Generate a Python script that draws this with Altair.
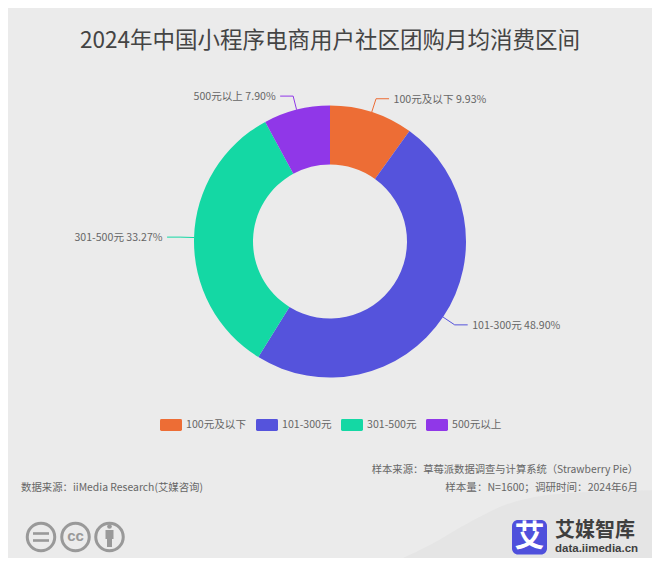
import math
import altair as alt
import pandas as pd

CATS = ["100元及以下", "101-300元", "301-500元", "500元以上"]
VALS = [9.93, 48.90, 33.27, 7.90]
COLS = ["#ed6d35", "#5553dc", "#14d8a4", "#9037e8"]
TITLE = "2024年中国小程序电商用户社区团购月均消费区间"
SRC_L = "数据来源：iiMedia Research(艾媒咨询)"
SRC_R1 = "样本来源：草莓派数据调查与计算系统（Strawberry Pie）"
SRC_R2 = "样本量：N=1600；调研时间：2024年6月"
WAVE_X = [385, 430, 470, 505, 535, 570, 620, 660]
WAVE_Y = [566, 545, 522, 505, 497, 493, 491, 490]

BG = "#ebebeb"
FONT = "Noto Sans CJK SC"
W, H = 644, 550
CX, CY = 322, 233.5
R, R0 = 136, 77
EXT, L2 = 14, 13


def px(v):
    return v - 8


def txt(s, x, y, size=10.6, color="#666666", align="left", weight="normal", font=FONT, dy=1.5):
    return alt.Chart(pd.DataFrame({"t": [s]})).mark_text(
        align=align, baseline="middle", fontSize=size, color=color, fontWeight=weight, font=font
    ).encode(x=alt.value(x), y=alt.value(y + dy), text="t:N")


def seg(x1, y1, x2, y2, color, w=1.0):
    return alt.Chart(pd.DataFrame({"a": [0]})).mark_rule(color=color, strokeWidth=w).encode(
        x=alt.value(x1), x2=alt.value(x2), y=alt.value(y1), y2=alt.value(y2)
    )


df = pd.DataFrame({"cat": CATS, "val": VALS, "ord": range(len(CATS))})

wave = alt.Chart(pd.DataFrame({"x": WAVE_X, "y": WAVE_Y})).mark_area(
    color="#e5e5e5", interpolate="monotone", clip=True
).encode(
    x=alt.X("x:Q", scale=alt.Scale(domain=[8, 8 + W], range=[0, W]), axis=None),
    y=alt.Y("y:Q", scale=alt.Scale(domain=[8, 8 + H], range=[0, H]), axis=None),
    y2=alt.datum(8 + H),
)

donut = alt.Chart(df).mark_arc(radius=R, innerRadius=R0).encode(
    x=alt.value(CX),
    y=alt.value(CY),
    theta=alt.Theta("val:Q", stack=True, scale=alt.Scale(domain=[0, 100], range=[0, 2 * math.pi])),
    order=alt.Order("ord:Q"),
    color=alt.Color(
        "cat:N",
        scale=alt.Scale(domain=CATS, range=COLS),
        sort=CATS,
        legend=alt.Legend(
            title=None,
            orient="none",
            legendX=px(160),
            legendY=px(414),
            direction="horizontal",
            columns=4,
            gridAlign="none",
            symbolType="M-1,-0.42 Q-1,-0.55 -0.87,-0.55 L0.87,-0.55 Q1,-0.55 1,-0.42 L1,0.42 Q1,0.55 0.87,0.55 L-0.87,0.55 Q-1,0.55 -1,0.42 Z",
            symbolSize=484,
            symbolStrokeWidth=0,
            symbolOpacity=1,
            labelFont=FONT,
            labelFontSize=10.6,
            labelColor="#666666",
            labelOffset=4,
            columnPadding=9,
        ),
    ),
)

layers = [wave, donut]

cum = 0.0
for cat, val, col in zip(CATS, VALS, COLS):
    ang = (cum + val / 2) / 100 * 2 * math.pi
    cum += val
    sx, cx = math.sin(ang), math.cos(ang)
    x0, y0 = CX + R * sx, CY - R * cx
    x1, y1 = CX + (R + EXT) * sx, CY - (R + EXT) * cx
    sign = 1 if sx > 0 else -1
    x2 = x1 + sign * L2
    layers.append(seg(x0, y0, x1, y1, col))
    layers.append(seg(x1, y1, x2, y1, col))
    layers.append(txt(f"{cat} {val:.2f}%", x2 + sign * 4.5, y1, align="left" if sign > 0 else "right", dy=1))

layers += [
    txt(TITLE, px(330), px(39), size=22.5, color="#444444", align="center"),
    txt(SRC_L, px(21), px(486), size=10.4),
    txt(SRC_R1, px(638), px(468), size=10.3, align="right"),
    txt(SRC_R2, px(638), px(486), size=10.55, align="right"),
]

# licence icons
for c in (41, 75.5, 109.5):
    layers.append(
        alt.Chart(pd.DataFrame({"a": [0]})).mark_point(
            shape="circle", size=756, filled=False, color="#999999", strokeWidth=3, opacity=1
        ).encode(x=alt.value(px(c)), y=alt.value(px(537)))
    )
layers += [
    seg(px(33), px(533.5), px(49), px(533.5), "#999999", 2.6),
    seg(px(33), px(540.5), px(49), px(540.5), "#999999", 2.6),
    txt("cc", px(75.5), px(536), size=15, color="#999999", align="center", weight="bold", font="Liberation Sans", dy=0),
    alt.Chart(pd.DataFrame({"a": [0]})).mark_point(
        shape="circle", size=22, filled=True, color="#999999", opacity=1
    ).encode(x=alt.value(px(109.5)), y=alt.value(px(526.5))),
    seg(px(109.5), px(530), px(109.5), px(539), "#999999", 8),
    seg(px(109.5), px(539), px(109.5), px(547), "#999999", 5),
]

# logo
layers += [
    alt.Chart(pd.DataFrame({"a": [0]})).mark_rect(color="#4f50dc", cornerRadius=6).encode(
        x=alt.value(px(512)), x2=alt.value(px(547)), y=alt.value(px(520)), y2=alt.value(px(554.5))
    ),
    txt("艾", px(529.5), px(537), size=30, color="#ffffff", align="center", weight="bold", dy=0),
    txt("艾媒智库", px(555), px(531), size=20, color="#3f3f3f", weight="bold", dy=0),
    txt("data.iimedia.cn", px(555), px(549), size=11.5, color="#3f3f3f", weight="bold", font="Liberation Sans", dy=0),
]

chart = alt.layer(*layers).resolve_scale(color="independent").properties(
    width=W,
    height=H,
    padding=0,
    background=BG,
    autosize=alt.AutoSizeParams(type="none"),
).configure_view(stroke=None)

chart.save("out.html", embed_options={"renderer": "svg", "actions": False})
